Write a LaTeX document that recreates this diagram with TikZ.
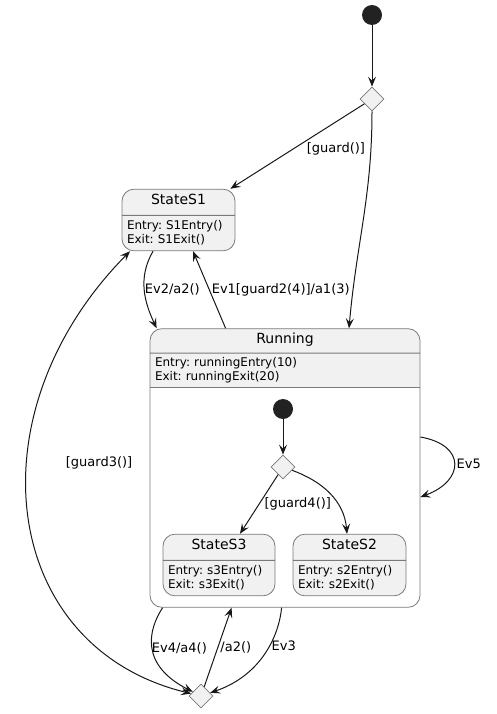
\documentclass[tikz,border=0pt]{standalone}
\usepackage{fontspec}
\setmainfont{DejaVu Sans}
\usetikzlibrary{positioning, shapes.geometric, shapes.multipart, arrows.meta}
\definecolor{statefill}{HTML}{F1F1F1}
\definecolor{stateline}{HTML}{7A7A7A}
\definecolor{umlline}{HTML}{181818}
\definecolor{dotfill}{HTML}{222222}
\newcommand{\stitle}[1]{{\centering\fontsize{14}{16}\selectfont\rule[-5pt]{0pt}{12.5pt}#1\par}}

\begin{document}
\begin{tikzpicture}[x=1pt, y=1pt, >={Stealth[length=10pt, width=8pt, inset=4pt]},
    state/.style={rectangle split, rectangle split parts=2, draw=stateline, line width=0.8pt,
        fill=statefill, rounded corners=12pt, align=left, inner xsep=5pt, inner ysep=5pt,
        font=\fontsize{12}{14}\selectfont\frenchspacing},
    initdot/.style={circle, fill=dotfill, minimum size=20pt, inner sep=0pt},
    choice/.style={diamond, aspect=1, draw=stateline, line width=0.8pt, fill=statefill,
        minimum size=24pt, inner sep=0pt},
    trans/.style={->, draw=umlline, line width=1pt},
    lbl/.style={font=\fontsize{13}{15}\selectfont, anchor=west, inner sep=2pt}]

        \useasboundingbox (0,0) rectangle (497,-714);

        \node[initdot] (top) at (372,-15) {};
        \node[choice] (pick) at (372,-99) {};

        \node[state, text width=103pt] (s1) at (178.5,-220) {
            \stitle{StateS1}
            \nodepart{two}Entry: S1Entry()\\Exit: S1Exit()
        };

        \node[state, fill=none, rectangle split parts=3, rectangle split part fill={statefill,statefill,white},
            inner ysep=4pt, text width=260pt] (running) at (285,-468) {
            \stitle{Running}
            \nodepart{two}Entry: runningEntry(10)\\Exit: runningExit(20)
            \nodepart{three}\rule{0pt}{211pt}
        };

        \node[initdot] (subtop) at (283,-409) {};
        \node[choice] (subpick) at (283,-467) {};

        \node[state, text width=102pt] (s3) at (219,-565) {
            \stitle{StateS3}
            \nodepart{two}Entry: s3Entry()\\Exit: s3Exit()
        };

        \node[state, text width=103pt] (s2) at (349.5,-565) {
            \stitle{StateS2}
            \nodepart{two}Entry: s2Entry()\\Exit: s2Exit()
        };

        \node[choice] (join) at (201,-696) {};

        \draw[trans] (top) -- (pick);
        \draw[trans] (pick) -- node[lbl, xshift=7pt, yshift=-3pt] {[guard()]} ([xshift=-5pt]s1.north east);
        \draw[trans] (pick.south) to[out=-90, in=85] ([xshift=64pt]running.north);
        \draw[trans] ([xshift=-25.5pt]s1.south) to[out=-120, in=115] node[lbl, xshift=-2pt] {Ev2/a2()} ([xshift=7pt]running.north west);
        \draw[trans] ([xshift=76pt]running.north west) -- node[lbl] {Ev1[guard2(4)]/a1(3)} ([xshift=14.5pt]s1.south);
        \draw[trans, <->] ([xshift=-48.5pt]s1.south) .. controls (-30,-413) and (0,-647) .. node[lbl, pos=0.4, xshift=36pt] {[guard3()]} (join);
        \draw[trans] ([xshift=13pt]running.south west) .. controls (148,-630) and (140,-665) .. node[lbl, xshift=-3pt] {Ev4/a4()} (join);
        \draw[trans] (join) -- node[lbl] {/a2()} ([xshift=82pt]running.south west);
        \draw[trans] ([xshift=132pt]running.south west) .. controls (279,-635) and (262,-675) .. node[lbl, pos=0.42] {Ev3} (join);
        \draw[trans] ([yshift=31pt]running.east) to[out=-10, in=20, looseness=2] node[lbl] {Ev5} ([yshift=-29pt]running.east);
        \draw[trans] (subtop) -- (subpick);
        \draw[trans] (subpick) -- node[lbl, xshift=3pt] {[guard4()]} ([xshift=21pt]s3.north);
        \draw[trans] (subpick) to[out=-20, in=95] ([xshift=-2.5pt]s2.north);
    \end{tikzpicture}
\end{document}
